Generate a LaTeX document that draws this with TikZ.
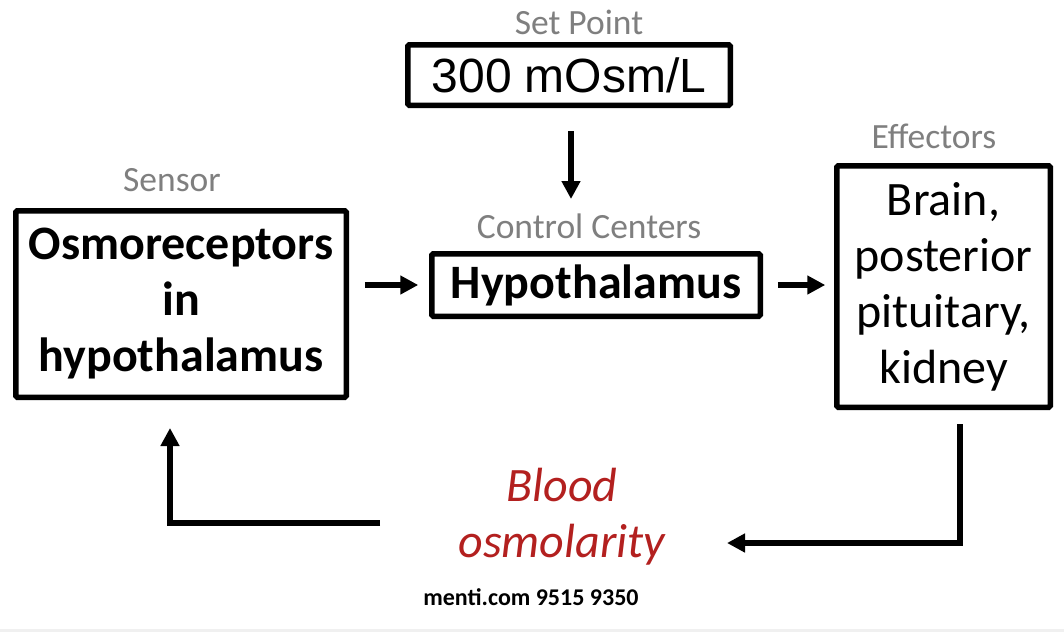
\documentclass[tikz,border=0pt]{standalone}
\usepackage{fontspec}
\setmainfont{Carlito}
\newfontfamily\arial{Liberation Sans}
\usetikzlibrary{arrows.meta}
\definecolor{lblgray}{HTML}{7F7F7F}
\definecolor{bred}{HTML}{B3201F}
\begin{document}
\begin{tikzpicture}[x=1pt,y=-1pt,
 box/.style={draw,line width=5.5pt,rounded corners=1.5pt,inner sep=0pt,align=center},
 lbl/.style={text=lblgray,font=\fontsize{35.5}{40}\selectfont,inner sep=0pt},
 arr/.style={line width=5.5pt,-{Triangle[length=18pt,width=18pt]}},
 ]
\fill[white] (0,0) rectangle (1064,632);
\fill[gray!12] (0,629) rectangle (1064,632);
\useasboundingbox (0,0) rectangle (1064,632);

\node[box,minimum width=322.5pt,minimum height=60.5pt,font=\arial\fontsize{48}{52}\selectfont] (sp) at (569,75) {300 mOsm/L};
\node[box,minimum width=330.5pt,minimum height=186.5pt,font=\bfseries\fontsize{48}{56}\selectfont] (osm) at (181,304) {Osmoreceptors\\in\\hypothalamus};
\node[box,minimum width=328.5pt,minimum height=62.5pt,font=\bfseries\fontsize{48}{56}\selectfont] (hyp) at (596,285) {Hypothalamus};
\node[box,minimum width=213.5pt,minimum height=241.5pt,font=\fontsize{48}{56}\selectfont] (eff) at (943.5,286.5) {Brain,\\posterior\\pituitary,\\kidney};

\node[lbl] (lsp) at (579,22) {Set Point};
\node[lbl] (lsen) at (172,180) {Sensor};
\node[lbl] (lcc) at (589,226) {Control Centers};
\node[lbl] (leff) at (934,136) {Effectors};

\node[text=bred,font=\itshape\fontsize{48}{56}\selectfont,align=center,inner sep=0pt] (blood) at (562,517) {Blood\\osmolarity};
\node[font=\bfseries\fontsize{24}{28}\selectfont,inner sep=0pt] (menti) at (531,597) {menti.com 9515 9350};

\coordinate (spA) at (571,131);
\coordinate (spB) at (571,199);
\draw[arr] (spA) -- (spB);
\draw[arr,shorten <=15.75pt,shorten >=10.75pt] (osm.east |- hyp.west) -- (hyp.west);
\draw[arr,shorten <=14.75pt,shorten >=8.75pt] (hyp.east) -- (hyp.east -| eff.west);

\coordinate (fbR) at (960,424);
\coordinate (fbRend) at (727,543);
\draw[arr] (fbR) |- (fbRend);
\coordinate (fbL) at (380,523);
\coordinate (fbLend) at (170,428);
\draw[arr] (fbL) -| (fbLend);
\end{tikzpicture}
\end{document}
